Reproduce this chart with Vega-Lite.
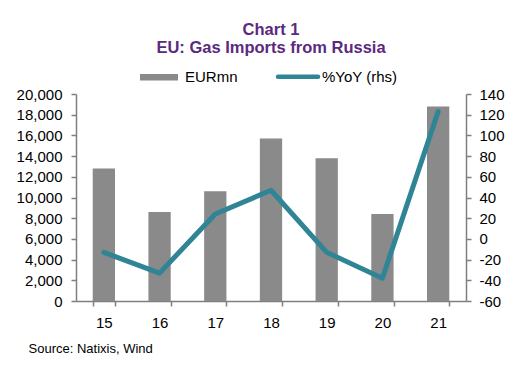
{
  "$schema": "https://vega.github.io/schema/vega-lite/v6.json",
  "width": 390,
  "height": 207,
  "autosize": "none",
  "padding": {"left": 76, "top": 94, "right": 59, "bottom": 74},
  "background": "white",
  "config": {
    "view": {"stroke": null},
    "font": "Liberation Sans",
    "axis": {
      "grid": false,
      "domainColor": "#7f7f7f",
      "tickColor": "#7f7f7f",
      "domainWidth": 1.5,
      "tickWidth": 1.5,
      "tickSize": 5,
      "labelColor": "#000000",
      "labelFont": "Liberation Sans",
      "labelFontSize": 15
    }
  },
  "title": {
    "text": ["Chart 1", "EU: Gas Imports from Russia"],
    "color": "#5b2a7f",
    "font": "Liberation Sans",
    "fontSize": 16.5,
    "fontWeight": "bold",
    "anchor": "middle",
    "lineHeight": 18,
    "offset": 13
  },
  "data": {
    "values": [
      {"year": "15", "eur": 12800, "yoy": -13},
      {"year": "16", "eur": 8600, "yoy": -33},
      {"year": "17", "eur": 10600, "yoy": 24},
      {"year": "18", "eur": 15700, "yoy": 47},
      {"year": "19", "eur": 13800, "yoy": -13},
      {"year": "20", "eur": 8400, "yoy": -38},
      {"year": "21", "eur": 18800, "yoy": 123}
    ]
  },
  "encoding": {
    "x": {
      "field": "year",
      "type": "ordinal",
      "scale": {"paddingInner": 0.6, "paddingOuter": 0.3},
      "axis": {
        "labelAngle": 0,
        "labelPadding": 9,
        "tickBand": "extent",
        "title": "Source: Natixis, Wind",
        "titleFont": "Liberation Sans",
        "titleFontSize": 13,
        "titleFontWeight": "normal",
        "titleColor": "#000000",
        "titleAnchor": "start",
        "titleAlign": "left",
        "titleBaseline": "alphabetic",
        "titleX": -48,
        "titleY": 51
      }
    }
  },
  "layer": [
    {
      "mark": {"type": "bar", "color": "#8a8a8a"},
      "encoding": {
        "y": {
          "field": "eur",
          "type": "quantitative",
          "scale": {"domain": [0, 20000], "nice": false},
          "axis": {
            "title": null,
            "values": [0, 2000, 4000, 6000, 8000, 10000, 12000, 14000, 16000, 18000, 20000],
            "format": ",.0f",
            "labelPadding": 9
          }
        },
        "color": {
          "datum": "EURmn",
          "type": "nominal",
          "scale": {"domain": ["EURmn", "%YoY (rhs)"], "range": ["#8a8a8a", "#2f8596"]},
          "legend": {
            "orient": "none",
            "legendX": 64,
            "legendY": -25,
            "direction": "horizontal",
            "title": null,
            "labelFont": "Liberation Sans",
            "labelFontSize": 15,
            "labelColor": "#000000",
            "symbolSize": 1600,
            "columnPadding": 31,
            "encode": {
              "symbols": {
                "update": {
                  "x": {"signal": "datum.value === 'EURmn' ? 19 : 23"},
                  "shape": {"signal": "datum.value === 'EURmn' ? 'M-0.95,-0.16H0.95V0.16H-0.95Z' : 'M-1,0H1'"},
                  "size": {"value": 1600},
                  "fill": {"signal": "datum.value === 'EURmn' ? '#8a8a8a' : 'transparent'"},
                  "stroke": {"signal": "datum.value === 'EURmn' ? 'transparent' : '#2f8596'"},
                  "strokeWidth": {"signal": "datum.value === 'EURmn' ? 0 : 4.5"},
                  "strokeCap": {"value": "round"},
                  "opacity": {"value": 1}
                }
              },
              "labels": {
                "update": {
                  "x": {"signal": "datum.value === 'EURmn' ? 45 : 47"}
                }
              }
            }
          }
        }
      }
    },
    {
      "mark": {"type": "line", "strokeWidth": 5, "strokeCap": "round", "strokeJoin": "round"},
      "encoding": {
        "y": {
          "field": "yoy",
          "type": "quantitative",
          "scale": {"domain": [-60, 140], "nice": false},
          "axis": {
            "orient": "right",
            "title": null,
            "values": [-60, -40, -20, 0, 20, 40, 60, 80, 100, 120, 140],
            "labelExpr": "toString(datum.value)",
            "labelPadding": 8
          }
        },
        "color": {"datum": "%YoY (rhs)", "type": "nominal"}
      }
    }
  ],
  "resolve": {"scale": {"y": "independent"}}
}
